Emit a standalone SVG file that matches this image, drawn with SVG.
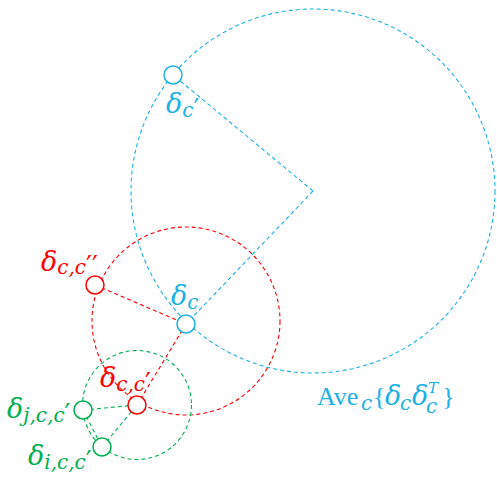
<svg xmlns="http://www.w3.org/2000/svg" width="497" height="478" viewBox="0 0 497 478">
<style>
.d{fill:none;stroke-width:1.1;stroke-dasharray:4 3}
.n{fill:#fff;stroke-width:1.5}
.b{stroke:#1BB1E7}
.r{stroke:#FF0000}
.g{stroke:#00B050}
text{font-family:"DejaVu Serif","Liberation Serif",serif;font-style:italic;font-size:27px}
.s{font-size:20px}
.p{font-family:"DejaVu Sans",sans-serif;font-style:normal;font-size:26px}
.up{font-family:"Liberation Serif","DejaVu Serif",serif;font-style:normal;font-size:26px}
.sup{font-size:15px}
.tb{fill:#1BB1E7}
.tr{fill:#FF0000}
.tg{fill:#00B050}
</style>
<rect width="497" height="478" fill="#fff"/>
<g id="connectors">
<circle class="d b" cx="313" cy="191" r="182"/>
<line class="d b" x1="313" y1="191" x2="173" y2="75"/>
<line class="d b" x1="313" y1="191" x2="186" y2="324"/>
<circle class="d r" cx="186" cy="321" r="94"/>
<line class="d r" x1="95" y1="285" x2="186" y2="324"/>
<line class="d r" x1="186" y1="324" x2="137" y2="405"/>
<circle class="d g" cx="137" cy="405" r="54.5"/>
<line class="d g" x1="83" y1="410" x2="137" y2="405"/>
<line class="d g" x1="102" y1="447" x2="137" y2="405"/>
<line class="d g" x1="83" y1="410" x2="102" y2="447"/>
</g>
<g id="node-c-prime"><circle class="n b" cx="173" cy="75" r="9"/>
<text class="tb" x="166" y="113">δ<tspan class="s" dy="4">c</tspan><tspan class="p" dy="1">′</tspan></text></g>
<g id="node-c"><circle class="n b" cx="186" cy="324" r="9"/>
<text class="tb" x="171" y="305">δ<tspan class="s" dy="4">c</tspan></text></g>
<g id="node-cc2"><circle class="n r" cx="95" cy="285" r="9"/>
<text class="tr" x="41" y="271">δ<tspan class="s" dy="3">c,c</tspan><tspan class="p" dy="1">′′</tspan></text></g>
<g id="node-cc1"><circle class="n r" cx="137" cy="405" r="9"/>
<text class="tr" x="100" y="387">δ<tspan class="s" dy="4">c,c</tspan><tspan class="p" dy="1">′</tspan></text></g>
<g id="node-j"><circle class="n g" cx="83" cy="410" r="9"/>
<text class="tg" x="7" y="418">δ<tspan class="s" dy="4">j,c,c</tspan><tspan class="p" dy="1">′</tspan></text></g>
<g id="node-i"><circle class="n g" cx="102" cy="447" r="9"/>
<text class="tg" x="28" y="465">δ<tspan class="s" dy="4">i,c,c</tspan><tspan class="p" dy="1">′</tspan></text></g>
<g id="label-ave">
<text class="tb" y="405"><tspan class="up" x="317">Ave</tspan><tspan class="s" x="361" dy="5">c</tspan><tspan class="up" x="373" dy="-5">{</tspan><tspan x="385">δ</tspan><tspan class="s" x="400" dy="5">c</tspan><tspan x="412" dy="-5">δ</tspan></text>
<text class="tb sup" x="428" y="393">T</text>
<text class="tb s" x="426" y="413">c</text>
<text class="tb up" x="442" y="405">}</text>
</g>
</svg>
